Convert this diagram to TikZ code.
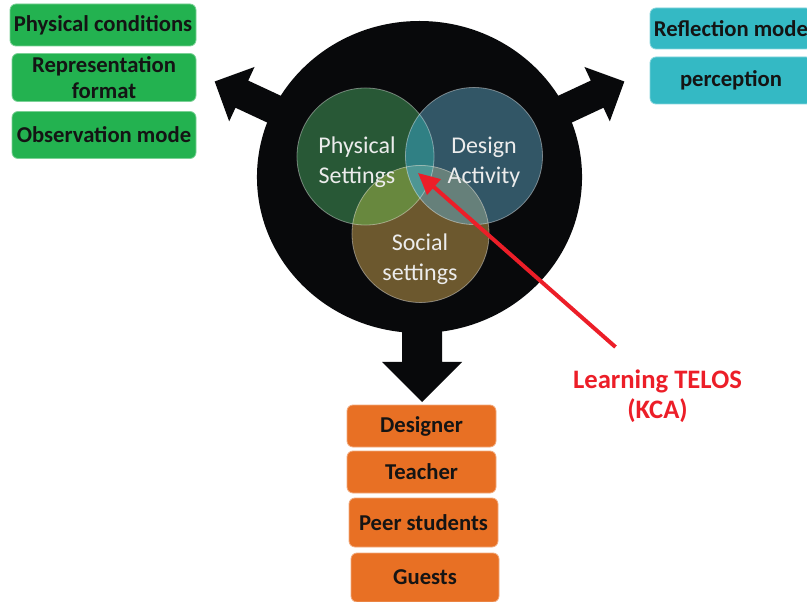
\documentclass[tikz,border=0pt]{standalone}
\usepackage{fontspec}
\setmainfont{Carlito}
\usetikzlibrary{arrows.meta}

\definecolor{hubblack}{RGB}{8,9,11}
\definecolor{boxgreen}{RGB}{35,178,80}
\definecolor{boxteal}{RGB}{52,185,196}
\definecolor{boxorange}{RGB}{232,112,36}
\definecolor{boxtext}{RGB}{20,20,20}
\definecolor{kcared}{RGB}{236,30,40}
\definecolor{venntext}{RGB}{236,236,236}
% venn regions
\definecolor{physfill}{RGB}{40,88,54}
\definecolor{desfill}{RGB}{50,86,102}
\definecolor{socfill}{RGB}{108,88,46}
\definecolor{pdfill}{RGB}{48,128,132}
\definecolor{psfill}{RGB}{104,136,62}
\definecolor{dsfill}{RGB}{102,128,122}
\definecolor{allfill}{RGB}{78,150,148}

\newcommand{\vennrad}{51.4pt}

\begin{document}
\begin{tikzpicture}[x=0.75pt, y=-0.75pt,
	box/.style={rectangle, rounded corners=4.5pt, inner sep=0pt, align=center, text=boxtext, font=\bfseries\fontsize{17}{19.5}\selectfont},
	greenbox/.style={box, fill=boxgreen, draw=boxgreen!60!white, line width=0.6pt},
	tealbox/.style={box, fill=boxteal, draw=boxteal!60!white, line width=0.6pt},
	orangebox/.style={box, fill=boxorange, draw=boxorange!60!white, line width=0.6pt},
	venntext/.style={align=center, inner sep=0pt, text=venntext, font=\fontsize{18}{22.5}\selectfont},
	ring/.style={draw=white, draw opacity=0.4, line width=0.6pt},
	kcaarrow/.style={-{Triangle[length=16pt, width=15pt]}, draw=kcared, line width=3pt}]
	\useasboundingbox (0,0) rectangle (807,602);
	\clip (0,0) rectangle (807,602);

	% hub with its three outlets
	\coordinate (hub) at (419.5, 177);
	\fill[hubblack, shift={(hub)}, rotate=155] (0,-15) -- (196,-15) -- (196,-30) -- (226,0) -- (196,30) -- (196,15) -- (0,15) -- cycle;
	\fill[hubblack, shift={(hub)}, rotate=25] (0,-15) -- (196,-15) -- (196,-30) -- (226,0) -- (196,30) -- (196,15) -- (0,15) -- cycle;
	\fill[hubblack, shift={(422,177)}, rotate=-90] (0,-20) -- (185,-20) -- (185,-40) -- (225,0) -- (185,40) -- (185,20) -- (0,20) -- cycle;
	\fill[hubblack] (hub) ellipse [x radius=121.9pt, y radius=117pt];

	% venn circles
	\coordinate (phys) at (365.5, 156.5);
	\coordinate (design) at (474, 156);
	\coordinate (social) at (420.5, 234);
	\fill[physfill] (phys) circle (\vennrad);
	\fill[desfill] (design) circle (\vennrad);
	\fill[socfill] (social) circle (\vennrad);
	\begin{scope}
		\clip (phys) circle (\vennrad);
		\fill[pdfill] (design) circle (\vennrad);
		\fill[psfill] (social) circle (\vennrad);
	\end{scope}
	\begin{scope}
		\clip (design) circle (\vennrad);
		\fill[dsfill] (social) circle (\vennrad);
	\end{scope}
	\begin{scope}
		\clip (phys) circle (\vennrad);
		\clip (design) circle (\vennrad);
		\fill[allfill] (social) circle (\vennrad);
	\end{scope}
	\draw[ring] (phys) circle (\vennrad);
	\draw[ring] (design) circle (\vennrad);
	\draw[ring] (social) circle (\vennrad);

	\node (physlbl) at (357, 162)	[venntext]	{Physical\\Settings};
	\node (deslbl) at (484, 162)	[venntext]	{Design\\Activity};
	\node (soclbl) at (420, 259)	[venntext]	{Social\\settings};

	% left group
	\node (PC) at (103, 25)		[greenbox, minimum width=139.5pt, minimum height=31.5pt]	{Physical conditions};
	\node (RF) at (104, 77.5)	[greenbox, minimum width=138pt, minimum height=36pt]		{Representation\\format};
	\node (OM) at (104, 135)	[greenbox, minimum width=138pt, minimum height=35.25pt]	{Observation mode};

	% right group
	\node (RM) at (731, 28.5)	[tealbox, minimum width=121.5pt, minimum height=30.75pt]	{Reflection mode};
	\node (PE) at (731, 80.5)	[tealbox, minimum width=121.5pt, minimum height=35.25pt]	{perception};

	% lower group
	\node (DE) at (421.5, 426)	[orangebox, minimum width=111.75pt, minimum height=31.5pt]	{Designer};
	\node (TE) at (421.5, 472)	[orangebox, minimum width=111.75pt, minimum height=31.5pt]	{Teacher};
	\node (PS) at (423.5, 522.5)	[orangebox, minimum width=111.75pt, minimum height=36.75pt]	{Peer students};
	\node (GU) at (425, 577.5)	[orangebox, minimum width=111pt, minimum height=36.75pt]	{Guests};

	% telos pointer
	\coordinate (core) at (418, 173);
	\node (telos) at (657.5, 396)	[align=center, inner sep=0pt, text=kcared, font=\bfseries\fontsize{20}{23}\selectfont]	{Learning TELOS\\(KCA)};
	\draw[kcaarrow] ([shift={(-42,-22)}]telos.north) -- (core);
\end{tikzpicture}
\end{document}
